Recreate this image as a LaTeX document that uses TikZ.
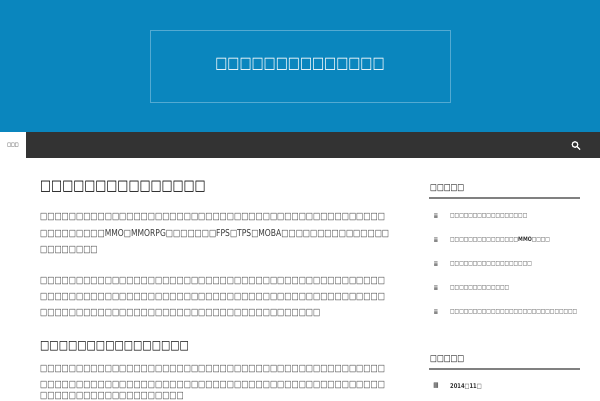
\documentclass[tikz,border=0pt]{standalone}
\usepackage{fontspec}
\setmainfont[FakeStretch=0.8]{DejaVu Sans}
\definecolor{headblue}{HTML}{0A86BE}
\definecolor{navdark}{HTML}{333333}
\definecolor{bodygray}{HTML}{3A3A3A}
\def\tofu#1{\ifnum#1>0 □\expandafter\tofu\expandafter{\the\numexpr#1-1\relax}\fi}
\tikzset{
  bodytext/.style={anchor=west, inner sep=0pt, text=bodygray, font=\fontsize{9.5}{9.5}\selectfont},
  sideitem/.style={anchor=west, inner sep=0pt, text=navdark, font=\fontsize{6}{6}\selectfont},
  sidehead/.style={anchor=west, inner sep=0pt, text=black, font=\fontsize{9}{9}\selectfont},
  sideicon/.style={anchor=center, inner sep=0pt, text=navdark, font=\fontsize{7}{7}\selectfont}
}
\begin{document}
\begin{tikzpicture}[x=1pt,y=-1pt]
    \useasboundingbox (0,0) rectangle (600,400);
    \fill[white] (0,0) rectangle (600,400);

    % cabecera
    \fill[headblue] (0,0) rectangle (600,132);
    \draw[white!30!headblue] (150,30) rectangle (450,102);
    \node[text=white, font=\fontsize{16}{16}\selectfont] (sitetitle) at (300,64) {\tofu{14}};

    % barra de navegacion
    \fill[navdark] (0,132) rectangle (600,158);
    \fill[white] (0,132) rectangle (26,158);
    \node[font=\fontsize{5}{5}\selectfont] (hometab) at (13,145) {\tofu{3}};
    \draw[white, line width=1.2pt] (575,144.5) circle (2.8);
    \draw[white, line width=1.4pt] (577,146.5) -- (580,149.5);

    % articulo
    \node[anchor=west, inner sep=0pt, font=\fontsize{14.6}{15}\selectfont] (posttitle) at (40,187) {\tofu{15}};
    \node[bodytext] (p1a) at (40,217) {\tofu{48}};
    \node[bodytext] (p1b) at (40,234) {\tofu{9}MMO□MMORPG\tofu{7}FPS□TPS□MOBA\tofu{15}};
    \node[bodytext] (p1c) at (40,250) {\tofu{8}};
    \node[bodytext] (p2a) at (40,281) {\tofu{48}};
    \node[bodytext] (p2b) at (40,297) {\tofu{48}};
    \node[bodytext] (p2c) at (40,313) {\tofu{39}};
    \node[anchor=west, inner sep=0pt, font=\fontsize{12.3}{12}\selectfont] (subhead) at (40,346) {\tofu{16}};
    \node[bodytext] (p3a) at (40,369) {\tofu{48}};
    \node[bodytext] (p3b) at (40,385) {\tofu{48}};
    \node[bodytext] (p3c) at (40,396) {\tofu{20}};

    % barra lateral
    \node[sidehead] (recent) at (430,188) {\tofu{5}};
    \draw[gray, line width=2pt] (429,198) -- (580,198);
    \foreach \y/\txt in {216/{\tofu{17}}, 240/{\tofu{15}\textbf{MMO}\tofu{4}}, 264/{\tofu{18}}, 288/{\tofu{13}}, 312/{\tofu{28}}} {
      \node[sideicon] at (436,\y) {≣};
      \node[sideitem] at (450,\y) {\txt};
    }
    \node[sidehead] (archive) at (430,359) {\tofu{5}};
    \draw[gray, line width=2pt] (429,369) -- (580,369);
    \node[sideicon] (calicon) at (436,386) {▦};
    \node[sideitem, font=\bfseries\fontsize{6.5}{7}\selectfont] (month) at (450,386) {2014□11□};
\end{tikzpicture}
\end{document}
